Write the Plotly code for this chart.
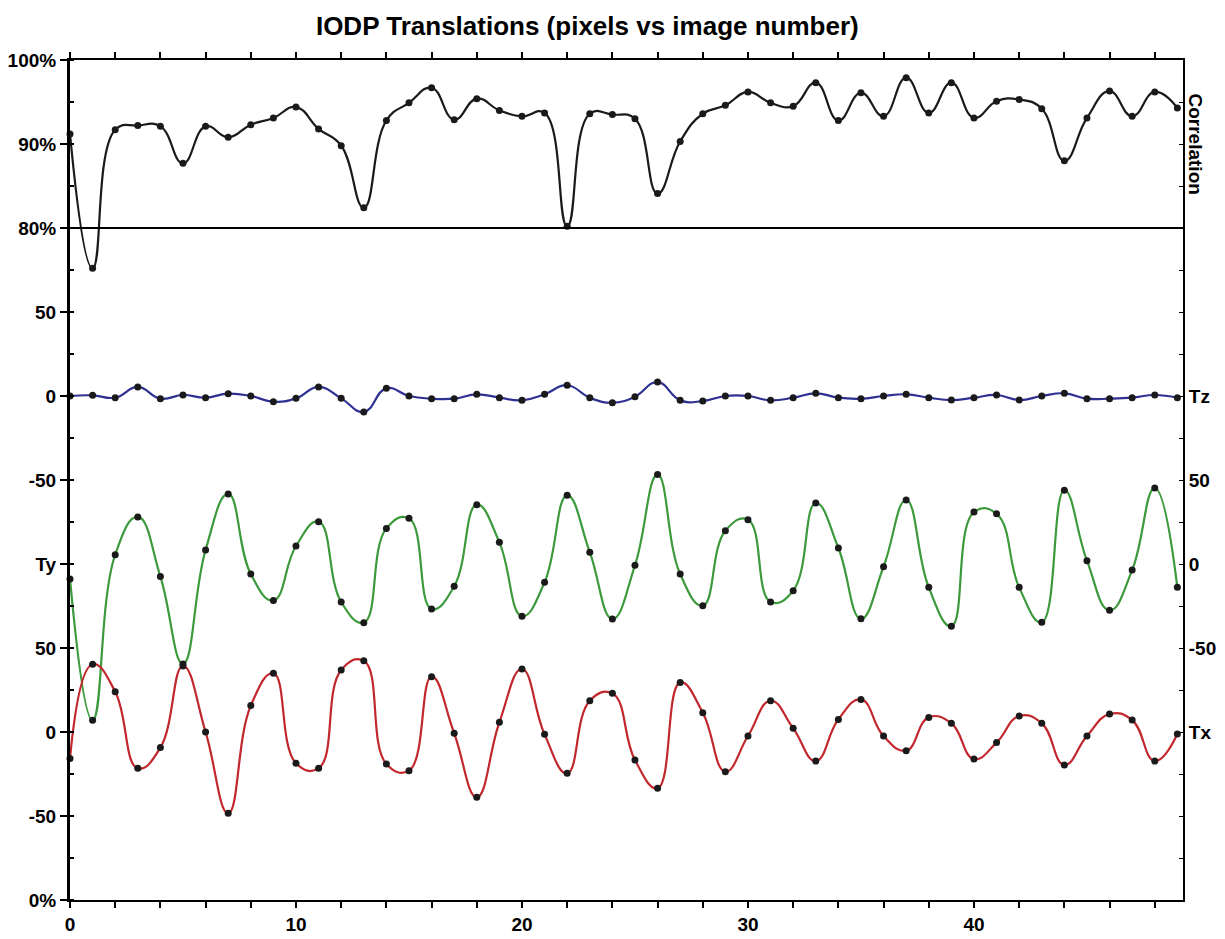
import plotly.graph_objects as go

image = list(range(50))
correlation = [91.2,75.2,91.7,92.2,92.1,87.7,92.1,90.8,92.3,93.1,94.4,91.8,89.8,82.4,92.8,94.9,96.7,92.9,
               95.4,94.0,93.3,93.7,80.2,93.6,93.5,93.0,84.1,90.3,93.6,94.6,96.2,94.9,94.5,97.3,
               92.8,96.1,93.3,97.9,93.7,97.3,93.1,95.1,95.3,94.2,88.0,93.1,96.3,93.3,96.2,94.3]
tz = [0,0.4,-1,5.4,-1.6,0.6,-1,1.4,0,-3.4,-1.4,5.4,-1.4,-9.5,4.6,0,-1.6,-1.6,
      1.0,-1,-2.6,1,6.4,-1,-4,-0.4,8.3,-2.6,-3,0,0,-2.6,-1,1.6,
      -1,-1.6,0,1,-1,-2.4,-1,0.6,-2.4,0,1.6,-1.6,-1.6,-1,0.6,-1]
ty = [-8.9,-93,5.5,28,-7.5,-59.5,8.3,41.7,-6,-21.8,10.7,25.2,-22.6,-34.9,21.2,27.2,-26.8,-13.3,
      35.3,12.9,-31.1,-10.9,40.9,7,-32.7,-0.8,53.2,-6,-24.8,19.8,26.4,-22.6,-15.9,36.3,
      9.5,-32.6,-1.6,38.1,-13.9,-37.1,30.9,29.9,-13.9,-34.7,43.9,2,-27.6,-3.6,45.2,-13.9]
tx = [-15.7,40.3,24,-21.6,-9.3,39.3,0,-48.4,15.7,34.9,-18.6,-21.6,36.9,42.4,-19,-23,32.9,-0.8,
      -38.9,5.8,37.5,-1.4,-24.6,18.6,23,-16.7,-33.5,29.4,11.5,-23.6,-2.4,18.6,2.2,-17.3,
      7.5,19.4,-2.4,-11.1,8.7,5.2,-16.1,-6.3,9.5,5.2,-19.6,-2.4,10.7,7.1,-17.3,-1.2]

left_ticks = ["0%","-50","0","50","Ty","-50","0","50","80%","90%","100%"]
right_labels = {2:"Tx",3:"-50",4:"0",5:"50",6:"Tz"}

# stacked bands: map each series into a shared vertical coordinate
u_corr = [8 + (c - 80) / 10 for c in correlation]
u_tz = [6 + v / 50 for v in tz]
u_ty = [4 + v / 50 for v in ty]
u_tx = [2 + v / 50 for v in tx]

fig = go.Figure()
series = [(u_corr, "#1a1a1a"), (u_tz, "#2e3192"), (u_ty, "#3c9a3c"), (u_tx, "#c1272d")]
for u, col in series:
    fig.add_trace(go.Scatter(x=image, y=u, mode="lines+markers", cliponaxis=False,
                             line=dict(color=col, width=2.2, shape="spline", smoothing=1.3),
                             marker=dict(color="#1a1a1a", size=7), showlegend=False))
fig.add_trace(go.Scatter(x=[0], y=[0], yaxis="y2", mode="markers",
                         marker=dict(opacity=0), showlegend=False, hoverinfo="skip"))

fig.add_shape(type="line", xref="paper", x0=0, x1=1, yref="y", y0=8, y1=8,
              line=dict(color="black", width=2))

FAM = "Liberation Sans, Arial"
font = dict(family=FAM, size=19, color="black")
r_vals = [i * 0.5 for i in range(21)]
r_text = [right_labels.get(int(v), "") if v == int(v) else "" for v in r_vals]

fig.update_layout(
    width=1212, height=928, plot_bgcolor="white", paper_bgcolor="white",
    margin=dict(l=62, r=37, t=52, b=36, autoexpand=False),
    title=dict(text="<b>IODP Translations (pixels vs image number)</b>", x=0.478, y=0.99,
               xanchor="center", font=dict(family=FAM, size=26, color="black")),
    font=font,
    xaxis=dict(range=[0, 49.25], tickvals=[0,10,20,30,40], ticktext=["<b>%d</b>" % v for v in [0,10,20,30,40]],
               showgrid=False, zeroline=False, showline=True, linecolor="black", linewidth=2,
               mirror="allticks", ticks="outside", ticklen=6, tickwidth=1.5, tickcolor="black",
               automargin=False,
               minor=dict(dtick=2, ticks="outside", ticklen=4, tickcolor="black")),
    yaxis=dict(range=[0, 10], tickvals=list(range(11)), ticktext=["<b>%s</b>" % t for t in left_ticks],
               showgrid=False, zeroline=False, showline=True, linecolor="black", linewidth=3,
               ticks="outside", ticklen=7, tickwidth=2, tickcolor="black", automargin=False,
               minor=dict(dtick=0.5, ticks="inside", ticklen=4, tickcolor="black")),
    yaxis2=dict(range=[0, 10], overlaying="y", side="right", tickvals=r_vals,
                ticktext=["<b>%s</b>" % t if t else "" for t in r_text], automargin=False,
                showgrid=False, zeroline=False, showline=True, linecolor="black", linewidth=2,
                ticks="inside", ticklen=4, tickcolor="black"),
)
fig.add_annotation(text="<b>Correlation</b>", xref="paper", yref="y", x=1.0, xshift=25, y=9.0,
                   textangle=90, showarrow=False, font=dict(family=FAM, size=19, color="black"))
fig.write_html("out.html")
